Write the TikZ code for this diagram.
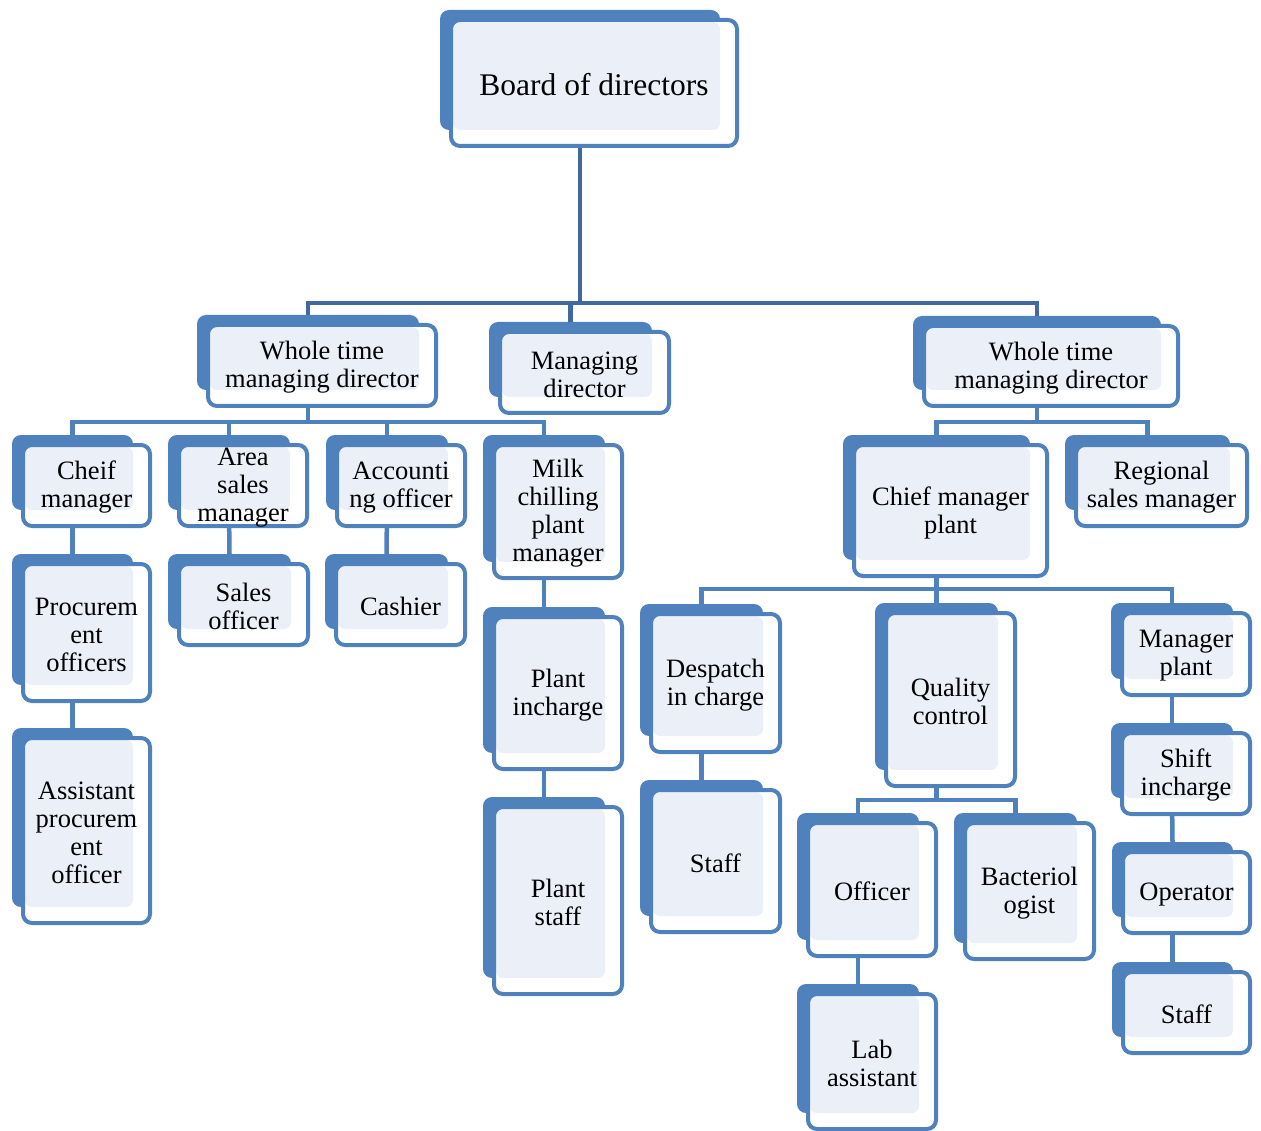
\documentclass[tikz,border=0pt]{standalone}
\usepackage{fontspec}
\setmainfont{Liberation Serif}
\usetikzlibrary{backgrounds}

\definecolor{boxblue}{HTML}{4F81BD}
\definecolor{boxlight}{HTML}{EBF0F8}
\definecolor{topblue}{HTML}{41699F}

\tikzset{
  backbox/.style={fill=boxblue, rounded corners=9pt, inner sep=0pt, outer sep=0pt},
  frontbox/.style={draw=boxblue, line width=4pt, fill=white, rounded corners=9pt,
    inner sep=0pt, outer sep=0pt,
    path picture={\fill[boxlight, rounded corners=7pt]
      ([xshift=2pt,yshift=-2pt]path picture bounding box.north west) rectangle
      ([xshift=-17pt,yshift=16pt]path picture bounding box.south east);}},
  boxtext/.style={align=center, inner sep=0pt, font=\fontsize{26.5}{28}\selectfont},
  conn/.style={draw=boxblue, line width=4.5pt},
  topline/.style={draw=topblue, line width=4.5pt}
}

% back box from (#3,#4) to (#5,#6), front box shifted down right
\newcommand{\orgbox}[7][]{%
  \pgfmathsetmacro{\obw}{#5-#3}\pgfmathsetmacro{\obh}{#6-#4}%
  \pgfmathsetmacro{\obx}{(#3+#5)/2}\pgfmathsetmacro{\oby}{(#4+#6)/2}%
  \node[backbox, minimum width=\obw pt, minimum height=\obh pt] (#2-b) at (\obx,\oby) {};
  \node[frontbox, minimum width=\obw pt+6pt, minimum height=\obh pt+6pt] (#2) at (\obx+14,\oby+13) {};
  \node[boxtext, #1] (#2-t) at ([yshift=-2pt]#2.center) {#7};
}

\begin{document}
\begin{tikzpicture}[x=1pt,y=-1pt]
\useasboundingbox (0,0) rectangle (1261,1131);

% top
\orgbox[font=\fontsize{31.5}{33}\selectfont]{board}{440}{10}{720}{130}{Board of directors}
\orgbox{wtmd1}{197}{315}{419}{390}{Whole time\\managing director}
\orgbox{md}{489}{322}{652}{397}{Managing\\director}
\orgbox{wtmd2}{913}{316}{1161}{390}{Whole time\\managing director}

% left branch
\orgbox{cheif}{12}{435}{133}{510}{Cheif\\manager}
\orgbox{area}{168}{435}{290}{510}{Area\\sales\\manager}
\orgbox{acct}{326}{435}{448}{510}{Accounti\\ng officer}
\orgbox{milk}{483}{435}{605}{562}{Milk\\chilling\\plant\\manager}
\orgbox{proc}{12}{554}{133}{685}{Procurem\\ent\\officers}
\orgbox{sales}{168}{554}{291}{629}{Sales\\officer}
\orgbox{cashier}{325}{554}{448}{629}{Cashier}
\orgbox{asst}{12}{728}{133}{907}{Assistant\\procurem\\ent\\officer}
\orgbox{pinc}{483}{607}{605}{753}{Plant\\incharge}
\orgbox{pstaff}{483}{797}{605}{978}{Plant\\staff}

% right branch
\orgbox{cmp}{843}{435}{1030}{560}{Chief manager\\plant}
\orgbox{rsm}{1065}{435}{1230}{510}{Regional\\sales manager}
\orgbox{desp}{640}{604}{763}{736}{Despatch\\in charge}
\orgbox{dstaff}{640}{780}{763}{916}{Staff}
\orgbox{qc}{875}{603}{998}{770}{Quality\\control}
\orgbox{mgr}{1111}{603}{1233}{679}{Manager\\plant}
\orgbox{shift}{1111}{723}{1233}{798}{Shift\\incharge}
\orgbox{oper}{1112}{842}{1233}{917}{Operator}
\orgbox{ostaff}{1112}{962}{1233}{1037}{Staff}
\orgbox{officer}{797}{813}{919}{940}{Officer}
\orgbox{bact}{954}{813}{1077}{943}{Bacteriol\\ogist}
\orgbox{lab}{797}{984}{919}{1113}{Lab\\assistant}

% connectors
\coordinate (lvl0) at (0,303);
\coordinate (lvl1) at (0,422);
\coordinate (lvl2) at (0,589);
\coordinate (lvl3) at (0,800);
\begin{scope}[on background layer]
  \foreach \c in {wtmd1,md,wtmd2}
    \draw[topline] (board-b.south) |- (\c-b.north |- lvl0) -- (\c-b.north);
  \foreach \c in {cheif,area,acct,milk}
    \draw[conn] (wtmd1-b.south) |- (\c-b.north |- lvl1) -- (\c-b.north);
  \foreach \c in {cmp,rsm}
    \draw[conn] (wtmd2-b.south) |- (\c-b.north |- lvl1) -- (\c-b.north);
  \foreach \c in {desp,qc,mgr}
    \draw[conn] (cmp-b.south) |- (\c-b.north |- lvl2) -- (\c-b.north);
  \foreach \c in {officer,bact}
    \draw[conn] (qc-b.south) |- (\c-b.north |- lvl3) -- (\c-b.north);
  \draw[conn] (cheif-b.south) -- (proc-b.north);
  \draw[conn] (proc-b.south) -- (asst-b.north);
  \draw[conn] (area-b.south) -- (sales-b.north);
  \draw[conn] (acct-b.south) -- (cashier-b.north);
  \draw[conn] (milk-b.south) -- (pinc-b.north);
  \draw[conn] (pinc-b.south) -- (pstaff-b.north);
  \draw[conn] (desp-b.south) -- (dstaff-b.north);
  \draw[conn] (officer-b.south) -- (lab-b.north);
  \draw[conn] (mgr-b.south) -- (shift-b.north);
  \draw[conn] (shift-b.south) -- (oper-b.north);
  \draw[conn] (oper-b.south) -- (ostaff-b.north);
\end{scope}
\end{tikzpicture}
\end{document}
